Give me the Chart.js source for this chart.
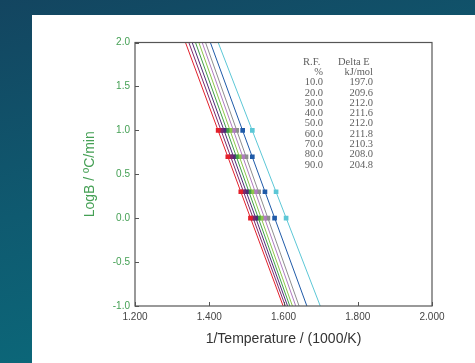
<!DOCTYPE html>
<html>
<head>
<meta charset="utf-8">
<script src="https://cdn.jsdelivr.net/npm/chart.js@4.4.1/dist/chart.umd.min.js"></script>
<style>
html, body { margin: 0; padding: 0; }
body { width: 475px; height: 363px; overflow: hidden; position: relative;
       background: linear-gradient(165deg, #134560 0%, #0f5a70 45%, #09707f 100%); }
#panel { position: absolute; left: 32px; top: 15px; width: 443px; height: 348px; background: #fff; }
#wrap { position: absolute; left: 0; top: 0; width: 475px; height: 363px; }
</style>
</head>
<body>
<div id="panel"></div>
<div id="wrap"><canvas id="chart" width="475" height="363"></canvas></div>
<script>
// --- Data (lines listed left to right: R.F. 90% ... 10%) ---
const logB = [1.0, 0.699, 0.301, 0.0];
const pointX = [
    [1.424, 1.450, 1.485, 1.511],
    [1.432, 1.458, 1.492, 1.518],
    [1.440, 1.465, 1.500, 1.525],
    [1.448, 1.473, 1.507, 1.532],
    [1.456, 1.481, 1.515, 1.540],
    [1.465, 1.490, 1.524, 1.549],
    [1.474, 1.499, 1.533, 1.558],
    [1.490, 1.516, 1.550, 1.576],
    [1.516, null, 1.580, 1.607]
];
// fitted lines: x where each line meets logB = 2.0 and logB = -1.0
const fitY = [2.0, -1.0];
const fitTopX = [1.336, 1.345, 1.354, 1.363, 1.372, 1.381, 1.390, 1.403, 1.424];
const fitBottomX = [1.599, 1.605, 1.611, 1.617, 1.624, 1.633, 1.642, 1.663, 1.699];
const lineColors = ['#e3202b', '#7d2a6c', '#4e2b78', '#3f9e48', '#8cc64a', '#b07cc0', '#8e8e8e', '#1f5aa8', '#5cc7d6'];

// table text (top right of the plot)
const rfValues = ['10.0', '20.0', '30.0', '40.0', '50.0', '60.0', '70.0', '80.0', '90.0'];
const deltaE = ['197.0', '209.6', '212.0', '211.6', '212.0', '211.8', '210.3', '208.0', '204.8'];

const green = '#45a055';

// --- Datasets ---
const datasets = [];
pointX.forEach((xs, i) => {
    datasets.push({
        data: logB.map((y, j) => ({ x: xs[j], y: y })).filter(p => p.x !== null),
        showLine: false,
        pointStyle: 'rect',
        pointRadius: 3.3,
        borderWidth: 0,
        backgroundColor: lineColors[i],
        order: 0
    });
    datasets.push({
        data: [{ x: fitTopX[i], y: fitY[0] }, { x: fitBottomX[i], y: fitY[1] }],
        showLine: true,
        pointRadius: 0,
        borderWidth: 1,
        borderColor: lineColors[i],
        order: 1
    });
});

// frame, inward tick marks and the R.F. / Delta E table
const extras = {
    id: 'extras',
    afterDatasetsDraw(chart) {
        const { ctx, chartArea: a, scales } = chart;
        ctx.save();
        ctx.strokeStyle = '#555';
        ctx.lineWidth = 1.2;
        ctx.strokeRect(a.left, a.top, a.right - a.left, a.bottom - a.top);
        ctx.lineWidth = 1;
        ctx.beginPath();
        scales.y.ticks.forEach(t => {
            const py = Math.round(scales.y.getPixelForValue(t.value)) + 0.5;
            ctx.moveTo(a.left, py); ctx.lineTo(a.left + 4, py);
        });
        scales.x.ticks.forEach(t => {
            const px = Math.round(scales.x.getPixelForValue(t.value)) + 0.5;
            ctx.moveTo(px, a.bottom); ctx.lineTo(px, a.bottom - 4);
        });
        ctx.stroke();

        ctx.fillStyle = '#606060';
        ctx.font = '10.5px "Liberation Serif"';
        ctx.textBaseline = 'middle';
        const c1 = a.left + 188, c2 = a.left + 238, top = a.top + 20;
        ctx.textAlign = 'left';
        ctx.fillText('R.F.', a.left + 168, top);
        ctx.fillText('Delta E', a.left + 203, top);
        ctx.textAlign = 'right';
        ctx.fillText('%', c1, top + 9.5);
        ctx.fillText('kJ/mol', c2, top + 9.5);
        rfValues.forEach((rf, i) => {
            const y = top + 20 + i * 10.3;
            ctx.fillText(rf, c1, y);
            ctx.fillText(deltaE[i], c2, y);
        });
        ctx.restore();
    }
};

new Chart(document.getElementById('chart').getContext('2d'), {
    type: 'scatter',
    data: { datasets: datasets },
    options: {
        responsive: false,
        animation: false,
        devicePixelRatio: 1,
        layout: { padding: { left: 78, top: 42.5, right: 43, bottom: 11 } },
        plugins: { legend: { display: false }, tooltip: { enabled: false } },
        scales: {
            x: {
                type: 'linear', min: 1.2, max: 2.0,
                grid: { display: false, drawTicks: false },
                border: { display: false },
                ticks: { stepSize: 0.2, padding: 5, color: '#444', font: { family: 'Liberation Sans', size: 10 },
                         callback: v => v.toFixed(3) },
                title: { display: true, text: '1/Temperature / (1000/K)', color: '#333',
                         font: { family: 'Liberation Sans', size: 14 }, padding: { top: 4, bottom: 4 } },
                afterFit: s => { s.height = 46; }
            },
            y: {
                type: 'linear', min: -1.0, max: 2.0,
                grid: { display: false, drawTicks: false },
                border: { display: false },
                ticks: { stepSize: 0.5, padding: 5, color: green, font: { family: 'Liberation Sans', size: 10 },
                         callback: v => v.toFixed(1) },
                title: { display: true, text: 'LogB / ºC/min', color: green,
                         font: { family: 'Liberation Sans', size: 14 }, padding: { top: 4, bottom: 4 } },
                afterFit: s => { s.width = 57; }
            }
        }
    },
    plugins: [extras]
});
</script>
</body>
</html>
